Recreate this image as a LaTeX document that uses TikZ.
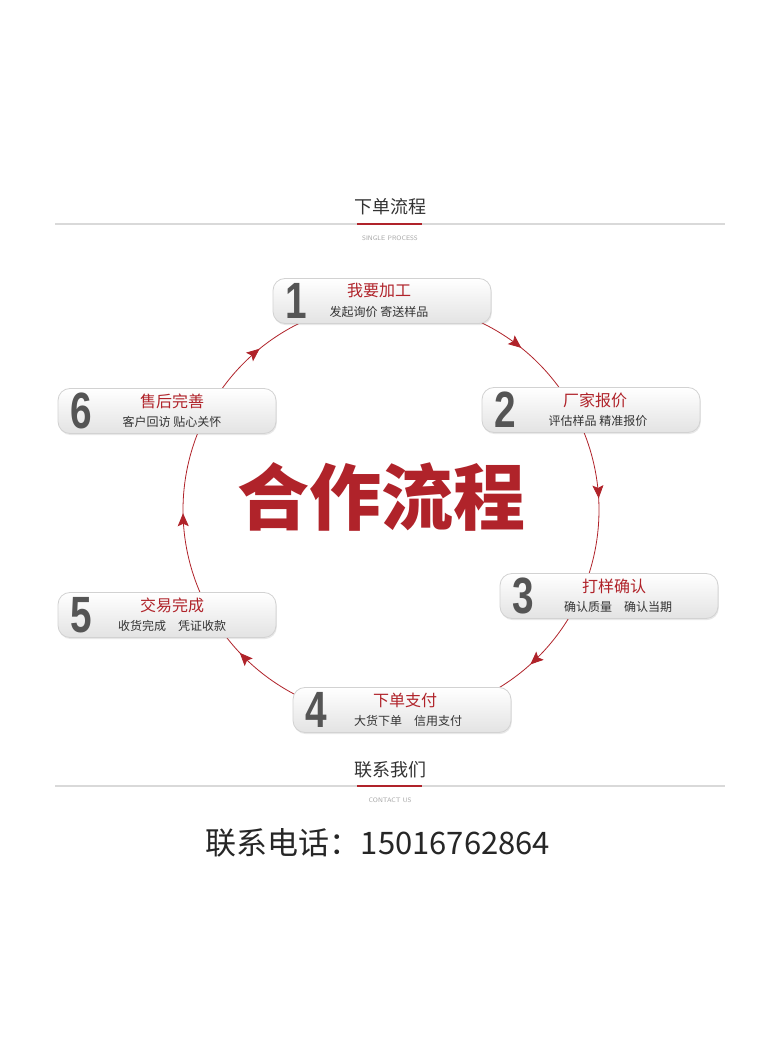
\documentclass[tikz,border=0pt]{standalone}
\usepackage{fontspec}
\usepackage{graphicx}
\setmainfont{Noto Sans CJK SC}
\newfontfamily\numfont{Liberation Sans}
\usetikzlibrary{decorations.markings,arrows.meta,shadows}
\definecolor{brand}{HTML}{B0232A}
\definecolor{ink}{HTML}{333333}
\definecolor{numgray}{HTML}{555555}
\definecolor{rule}{HTML}{D9D9D9}
\tikzset{
  stepbox/.style={draw=gray!35, line width=0.8pt, rounded corners=12pt,
    minimum width=218pt, minimum height=45pt, top color=white, bottom color=gray!22,
    drop shadow={opacity=0.18, shadow xshift=0.8pt, shadow yshift=-1.6pt}},
  num/.style={text=numgray, font=\numfont\bfseries\fontsize{51}{51}\selectfont, inner sep=0pt},
  ttl/.style={text=brand, font=\fontsize{16}{16}\selectfont, inner sep=0pt},
  sub/.style={text=ink, font=\fontsize{12}{12}\selectfont, inner sep=0pt},
  flow/.style={draw=brand, line width=0.8pt, postaction={decorate},
    decoration={markings, mark=at position #1 with {\arrow{Stealth[length=13pt,width=11pt,inset=2.5pt]}}}},
  head/.style={text=ink, font=\fontsize{18}{18}\selectfont, inner sep=0pt},
  eng/.style={text=gray!70, font=\sffamily\fontsize{6.5}{7}\selectfont, inner sep=0pt},
}
\begin{document}
\begin{tikzpicture}[x=1pt,y=1pt]
\useasboundingbox[fill=white] (0,0) rectangle (783,1045);
% header
\node[head] (h1) at (390,838) {下单流程};
\draw[rule, line width=1.5pt] (55,821) -- (725,821);
\draw[brand, line width=2.6pt] (357,821) -- (422,821);
\node[eng] (e1) at (390,807) {SINGLE PROCESS};
% circle arcs
\coordinate (c) at (391,535);
\draw[flow=0.68] (c) ++(92:208pt) arc[start angle=92, end angle=32, radius=208pt];
\draw[flow=0.60] (c) ++(32:208pt) arc[start angle=32, end angle=-16, radius=208pt];
\draw[flow=0.45] (c) ++(-16:208pt) arc[start angle=-16, end angle=-87, radius=208pt];
\draw[flow=0.68] (c) ++(-87:208pt) arc[start angle=-87, end angle=-160, radius=208pt];
\draw[flow=0.39] (c) ++(200:208pt) arc[start angle=200, end angle=151, radius=208pt];
\draw[flow=0.37] (c) ++(151:208pt) arc[start angle=151, end angle=92, radius=208pt];
% big title
\node[text=brand, font=\bfseries\fontsize{72}{72}\selectfont, inner sep=0pt] (big) at (381,548) {合作流程};
% boxes
\node[stepbox] (b1) at (382,744) {};
\node[stepbox] (b2) at (591,635) {};
\node[stepbox] (b3) at (609,449) {};
\node[stepbox] (b4) at (402,335) {};
\node[stepbox] (b5) at (167,430) {};
\node[stepbox] (b6) at (167,634) {};
\foreach \b/\n/\tx/\sx/\t/\s in {b1/1/-3/-3/我要加工/发起询价 寄送样品, b2/2/4/7/厂家报价/评估样品 精准报价, b3/3/5/9/打样确认/确认质量　确认当期, b4/4/3/6/下单支付/大货下单　信用支付, b5/5/5/5/交易完成/收货完成　凭证收款, b6/6/5/5/售后完善/客户回访 贴心关怀}{
  \node[num] (\b n) at ([xshift=24pt,yshift=0pt]\b.west) {\scalebox{0.76}[1]{\n}};
  \node[ttl] (\b t) at ([xshift=\tx pt,yshift=10pt]\b.center) {\t};
  \node[sub] (\b s) at ([xshift=\sx pt,yshift=-11pt]\b.center) {\s};
}
% contact
\node[head] (h2) at (390,275) {联系我们};
\draw[rule, line width=1.5pt] (55,259) -- (725,259);
\draw[brand, line width=2.6pt] (357,259) -- (422,259);
\node[eng] (e2) at (390,245) {CONTACT US};
\node[text=black!85, font=\fontsize{31}{31}\selectfont, inner sep=0pt] (tel) at (378,202) {联系电话：15016762864};
\end{tikzpicture}
\end{document}
